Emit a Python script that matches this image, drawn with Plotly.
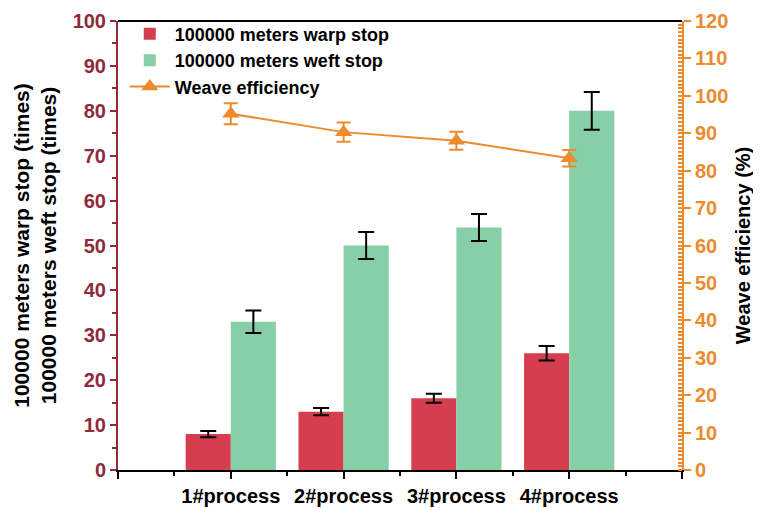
import plotly.graph_objects as go

categories = ["1#process", "2#process", "3#process", "4#process"]
cat_pos = [1, 2, 3, 4]
warp_stop = [8, 13, 16, 26]
warp_err = [0.7, 0.8, 1.0, 1.6]
weft_stop = [33, 50, 54, 80]
weft_err = [2.5, 3.0, 3.0, 4.2]
efficiency = [95.2, 90.3, 88.0, 83.3]
efficiency_err = [2.8, 2.6, 2.4, 2.2]

RED = "#D43E4F"
GREEN = "#87CFA6"
ORANGE = "#EE8A2E"
DARKRED = "#8E2B3B"
FONT = "Liberation Sans"

fig = go.Figure()
fig.add_trace(go.Bar(
    x=cat_pos, y=warp_stop, width=0.4, offset=-0.4,
    marker=dict(color=RED, line=dict(width=0)),
    error_y=dict(type="data", array=warp_err, color="black", thickness=2, width=8),
    name="<b>100000 meters warp stop</b>",
))
fig.add_trace(go.Bar(
    x=cat_pos, y=weft_stop, width=0.4, offset=0,
    marker=dict(color=GREEN, line=dict(width=0)),
    error_y=dict(type="data", array=weft_err, color="black", thickness=2, width=8),
    name="<b>100000 meters weft stop</b>",
))
fig.add_trace(go.Scatter(
    x=cat_pos, y=efficiency, yaxis="y2", mode="lines+markers",
    line=dict(color=ORANGE, width=2),
    marker=dict(symbol="triangle-up", size=15, color=ORANGE),
    error_y=dict(type="data", array=efficiency_err, color=ORANGE, thickness=2, width=7),
    name="<b>Weave efficiency</b>",
))

# page body has an 8px margin, so the figure is sized to fit the window
fig.update_layout(
    width=753, height=500,
    margin=dict(l=110, r=79, t=8, b=38),
    paper_bgcolor="white", plot_bgcolor="white",
    font=dict(family=FONT, size=18, color="black"),
    showlegend=True,
    legend=dict(x=0.012, y=1.012, xanchor="left", yanchor="top",
                bgcolor="rgba(0,0,0,0)", font=dict(size=18, family=FONT, color="black"),
                itemwidth=40, tracegroupgap=0),
    xaxis=dict(
        range=[0, 5], tickmode="array", tickvals=[0, 1, 2, 3, 4, 5],
        ticktext=["", "<b>1#process</b>", "<b>2#process</b>", "<b>3#process</b>", "<b>4#process</b>", ""],
        showline=True, linecolor="black", linewidth=2, ticks="outside", ticklen=7, tickwidth=2,
        tickcolor="black", showgrid=False, zeroline=False, automargin=False,
        tickfont=dict(size=20, family=FONT, color="black"),
        minor=dict(tickvals=[0.5, 1.5, 2.5, 3.5, 4.5], ticks="outside", ticklen=4, tickwidth=2, tickcolor="black"),
        mirror=False,
    ),
    yaxis=dict(
        range=[0, 100], dtick=10, showline=True, linecolor=DARKRED, linewidth=2,
        ticks="outside", ticklen=6, tickwidth=2, tickcolor=DARKRED, showgrid=False, zeroline=False,
        automargin=False, ticklabeloverflow="allow",
        tickfont=dict(size=20, family=FONT, color=DARKRED), tickprefix="<b>", ticksuffix="</b>",
        minor=dict(dtick=5, ticks="outside", ticklen=4, tickwidth=2, tickcolor=DARKRED),
        title=dict(text="<b>100000 meters warp stop (times)<br>100000 meters weft stop (times)</b>",
                   font=dict(size=21, family=FONT, color="black"), standoff=10),
    ),
    yaxis2=dict(
        range=[0, 120], dtick=10, overlaying="y", side="right", showline=True, linecolor=ORANGE, linewidth=2,
        ticks="outside", ticklen=7, tickwidth=2, tickcolor=ORANGE, showgrid=False, zeroline=False,
        automargin=False, ticklabeloverflow="allow",
        tickfont=dict(size=20, family=FONT, color=ORANGE), tickprefix="<b>", ticksuffix="</b>",
        minor=dict(dtick=1, ticks="inside", ticklen=4, tickwidth=1.5, tickcolor=ORANGE),
        title=dict(text="<b>Weave efficiency (%)</b>", font=dict(size=20, family=FONT, color="black"), standoff=9),
    ),
)
# top border line
fig.add_shape(type="line", xref="paper", yref="paper", x0=0, x1=1, y0=1, y1=1,
              line=dict(color="black", width=2))

fig.write_html("out.html")
